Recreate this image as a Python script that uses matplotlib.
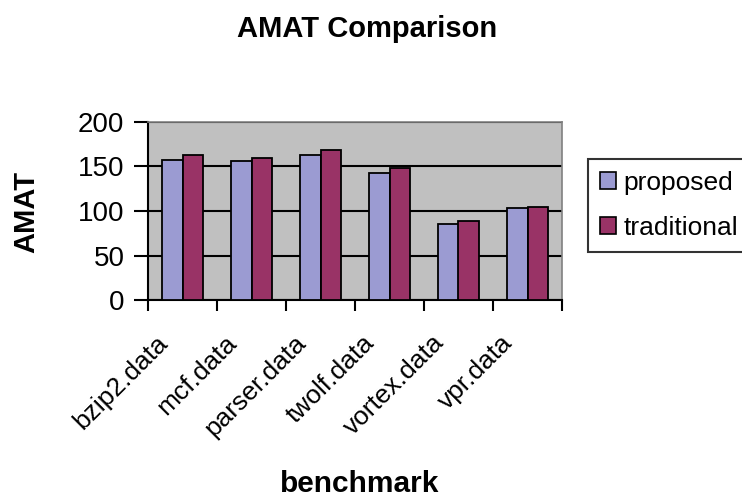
import matplotlib
matplotlib.use("Agg")
import matplotlib.pyplot as plt
import matplotlib.transforms as mtransforms
import numpy as np
from matplotlib.patches import Patch

plt.rcParams['font.family'] = ['Liberation Sans', 'DejaVu Sans']

categories = ["bzip2.data", "mcf.data", "parser.data", "twolf.data", "vortex.data", "vpr.data"]
proposed = [157, 156, 163, 143, 85, 103]
traditional = [163, 160, 168, 148, 89, 105]
series_names = ["proposed", "traditional"]
colors = ["#9b9bd2", "#993366"]

fig = plt.figure(figsize=(7.42, 4.97), dpi=100)
ax = fig.add_axes([148/742, 1 - 300/497, (562-148)/742, (300-122)/497])
ax.set_facecolor("#c0c0c0")

x = np.arange(len(categories))
w = 0.29
ax.bar(x - w/2, proposed, w, color=colors[0], edgecolor="black", linewidth=1.3, zorder=3)
ax.bar(x + w/2, traditional, w, color=colors[1], edgecolor="black", linewidth=1.3, zorder=3)

ax.set_xlim(-0.5, len(categories) - 0.5)
ax.set_ylim(0, 200)
ax.set_yticks([0, 50, 100, 150, 200])
ax.yaxis.grid(True, color="black", linewidth=1.5, zorder=1)
ax.set_axisbelow(True)

ax.set_xticks(np.arange(len(categories) + 1) - 0.5, minor=False)
ax.set_xticklabels([])
ax.set_xticks(x, minor=True)
ax.set_xticklabels(categories, minor=True, rotation=45, ha="right", rotation_mode="anchor", fontsize=19)
ax.tick_params(axis="x", which="minor", length=0, pad=14)
ax.tick_params(axis="x", which="major", length=8, width=1.5, direction="out")
ax.tick_params(axis="y", length=10, width=1.5, direction="out", labelsize=20, pad=7)

offset = mtransforms.ScaledTranslation(-27/100, -11/100, fig.dpi_scale_trans)
for lab in ax.get_xticklabels(minor=True):
    lab.set_transform(lab.get_transform() + offset)

for s in ["left", "bottom"]:
    ax.spines[s].set_color("black")
    ax.spines[s].set_linewidth(1.5)
for s in ["top", "right"]:
    ax.spines[s].set_color("#808080")
    ax.spines[s].set_linewidth(1.2)

fig.text(367/742, 1 - 29/497, "AMAT Comparison", ha="center", va="center", fontsize=21, fontweight="bold")
fig.text(26/742, 1 - 212/497, "AMAT", ha="center", va="center", rotation=90, fontsize=21, fontweight="bold")
fig.text(360/742, 1 - 484/497, "benchmark", ha="center", va="center", fontsize=21.5, fontweight="bold")

handles = [Patch(facecolor=colors[i], edgecolor="black", linewidth=1.2, label=series_names[i]) for i in range(2)]
leg = fig.legend(handles=handles, loc="upper left", bbox_to_anchor=(588/742, 1 - 159/497),
                 frameon=True, fancybox=False, edgecolor="black", fontsize=19,
                 handlelength=0.6, handleheight=0.6, handletextpad=0.3, labelspacing=0.8,
                 borderpad=0.45, borderaxespad=0)
leg.get_frame().set_linewidth(1.5)

fig.savefig("out.png", dpi=100)
